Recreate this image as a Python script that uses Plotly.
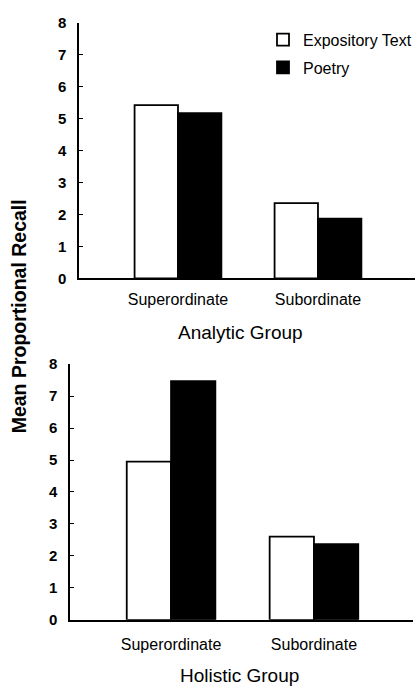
import plotly.graph_objects as go
from plotly.subplots import make_subplots

categories = ["Superordinate", "Subordinate"]
analytic_expository = [5.42, 2.35]
analytic_poetry = [5.17, 1.87]
holistic_expository = [4.95, 2.6]
holistic_poetry = [7.47, 2.37]
y_ticks = [0, 1, 2, 3, 4, 5, 6, 7, 8]
series_names = ["Expository Text", "Poetry"]
panel_titles = ["Analytic Group", "Holistic Group"]
y_title = "Mean Proportional Recall"

W, H = 420, 699
FONT = "Liberation Sans, Arial, Helvetica, sans-serif"

fig = make_subplots(rows=2, cols=1)

panels = [(analytic_expository, analytic_poetry), (holistic_expository, holistic_poetry)]
for i, (expo, poet) in enumerate(panels):
    r = i + 1
    fig.add_trace(go.Bar(x=categories, y=expo, name=series_names[0],
                         marker=dict(color="white", line=dict(color="black", width=1.8)),
                         showlegend=(i == 0), legendgroup="a", width=0.31,
                         offset=-0.31), row=r, col=1)
    fig.add_trace(go.Bar(x=categories, y=poet, name=series_names[1],
                         marker=dict(color="black", line=dict(color="black", width=1.8)),
                         showlegend=(i == 0), legendgroup="b", width=0.31,
                         offset=0.0), row=r, col=1)

def px_x(p):
    return p / W

def px_y(p):
    return 1 - p / H

fig.update_layout(
    xaxis=dict(domain=[px_x(79), px_x(415)], anchor="y"),
    yaxis=dict(domain=[px_y(276), px_y(14)], anchor="x"),
    xaxis2=dict(domain=[px_x(70), px_x(413)], anchor="y2"),
    yaxis2=dict(domain=[px_y(626), px_y(364)], anchor="x2"),
)

for ax in ["xaxis", "xaxis2"]:
    fig.layout[ax].update(
        type="category", range=[-0.707, 1.693], showline=True, linecolor="black",
        linewidth=2, showgrid=False, zeroline=False, ticks="",
        tickfont=dict(family=FONT, size=16, color="black"),
        ticklabelstandoff=6,
    )
for ax in ["yaxis", "yaxis2"]:
    fig.layout[ax].update(
        range=[0, 8], tickvals=y_ticks, showline=True, linecolor="black",
        linewidth=1.5, showgrid=False, zeroline=False, ticks="inside",
        ticklen=4, tickcolor="black", tickwidth=1.2,
        tickfont=dict(family=FONT, size=15, color="black", weight="bold"),
        ticklabelstandoff=8,
    )
fig.layout["xaxis2"].ticklabelstandoff = 9

fig.add_annotation(text=panel_titles[0], x=px_x(240), y=px_y(332), xref="paper", yref="paper",
                   showarrow=False, font=dict(family=FONT, size=19, color="black"),
                   xanchor="center", yanchor="middle")
fig.add_annotation(text=panel_titles[1], x=px_x(239), y=px_y(683), xref="paper", yref="paper",
                   showarrow=False, font=dict(family=FONT, size=19, color="black"),
                   xanchor="center", yanchor="middle")
fig.add_annotation(text=y_title, x=px_x(19), y=px_y(315), xref="paper", yref="paper",
                   showarrow=False, textangle=-90,
                   font=dict(family=FONT, size=19.5, color="black", weight="bold"),
                   xanchor="center", yanchor="middle")

fig.update_layout(
    width=W, height=H, margin=dict(l=0, r=0, t=0, b=0),
    paper_bgcolor="white", plot_bgcolor="white",
    barmode="overlay",
    legend=dict(x=px_x(263), y=px_y(14), xanchor="left", yanchor="top",
                font=dict(family=FONT, size=16, color="black"),
                tracegroupgap=4, bgcolor="rgba(0,0,0,0)"),
    font=dict(family=FONT, color="black"),
)

fig.write_html("out.html", config={"displayModeBar": False},
               post_script="document.body.style.margin='0px';")
